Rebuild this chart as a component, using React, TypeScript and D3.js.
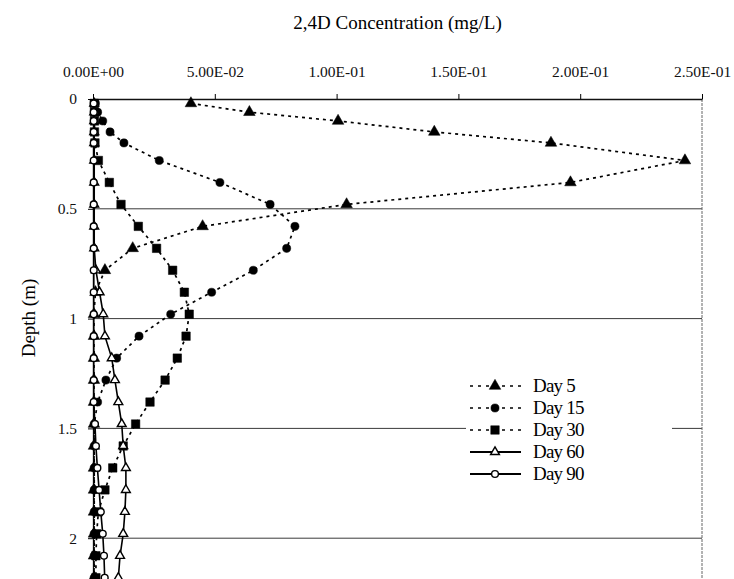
import React, { useEffect, useRef } from 'react';
import * as d3 from 'd3';

// depth of each sampling point (m)
const depths = [0.02, 0.06, 0.1, 0.15, 0.2, 0.28, 0.38, 0.48, 0.58, 0.68, 0.78, 0.88, 0.98,
  1.08, 1.18, 1.28, 1.38, 1.48, 1.58, 1.68, 1.78, 1.88, 1.98, 2.08, 2.18, 2.28];

// 2,4D concentration (mg/L)
const day5 = [0.0402, 0.0642, 0.1006, 0.1401, 0.188, 0.243, 0.196, 0.1041, 0.045, 0.0163, 0.0049, 0.001, 0.0004,
  0.0004, 0.0004, 0.0004, 0.0004, 0.0004, 0.0004, 0.0004, 0.0004, 0.0004, 0.0004, 0.0004, 0.0004, 0.0004];
const day15 = [0.001, 0.0019, 0.004, 0.007, 0.0127, 0.0272, 0.0521, 0.0727, 0.0829, 0.0795, 0.0658, 0.0487, 0.0319,
  0.0189, 0.0097, 0.0053, 0.0019, 0.0005, 0.0005, 0.0005, 0.0005, 0.0005, 0.0005, 0.0005, 0.0005, 0.0005];
const day30 = [0.0005, 0.0006, 0.0006, 0.0006, 0.0008, 0.0022, 0.0067, 0.0115, 0.0186, 0.0261, 0.0327, 0.0375, 0.0395,
  0.0382, 0.0346, 0.0296, 0.0234, 0.0175, 0.0124, 0.0081, 0.0049, 0.0022, 0.0015, 0.0012, 0.0012, 0.0012];
const day60 = [0.0005, 0.0005, 0.0005, 0.0005, 0.0005, 0.0005, 0.0005, 0.0005, 0.0005, 0.0005, 0.0012, 0.0027, 0.0042,
  0.0049, 0.0077, 0.009, 0.0104, 0.0118, 0.0124, 0.0135, 0.0135, 0.0131, 0.0124, 0.0111, 0.0104, 0.01];
const day90 = [0.0003, 0.0003, 0.0003, 0.0003, 0.0003, 0.0003, 0.0003, 0.0003, 0.0003, 0.0003, 0.0003, 0.0003, 0.0003,
  0.0003, 0.0003, 0.0003, 0.0003, 0.0008, 0.0012, 0.0018, 0.0025, 0.0032, 0.004, 0.0045, 0.0048, 0.005];

const xTicks = [0, 0.05, 0.1, 0.15, 0.2, 0.25];
const xTickLabels = ['0.00E+00', '5.00E-02', '1.00E-01', '1.50E-01', '2.00E-01', '2.50E-01'];
const yTicks = [0, 0.5, 1, 1.5, 2];
const yTickLabels = ['0', '0.5', '1', '1.5', '2'];
const gridDepths = [0.5, 1, 1.5, 2];

const series = [
  { name: 'Day 5', values: day5, symbol: d3.symbolTriangle, size: 58, filled: true, dotted: true },
  { name: 'Day 15', values: day15, symbol: d3.symbolCircle, size: 52, filled: true, dotted: true },
  { name: 'Day 30', values: day30, symbol: d3.symbolSquare, size: 72, filled: true, dotted: true },
  { name: 'Day 60', values: day60, symbol: d3.symbolTriangle, size: 34, filled: false, dotted: false },
  { name: 'Day 90', values: day90, symbol: d3.symbolCircle, size: 36, filled: false, dotted: false },
];

const FONT = 'Liberation Serif, Times New Roman, DejaVu Serif, serif';

const App = () => {
  const ref = useRef<SVGSVGElement>(null);

  useEffect(() => {
    const width = 734, height = 579;
    const svg = d3.select(ref.current);
    svg.selectAll('*').remove();
    svg.attr('width', width).attr('height', height).attr('font-family', FONT);

    const x = d3.scaleLinear().domain([0, 0.25]).range([93, 702]);
    const y = d3.scaleLinear().domain([0, 2.5]).range([99, 99 + 2.5 * 219.6]);

    svg.append('rect').attr('width', width).attr('height', height).attr('fill', '#fff');

    // horizontal gridlines
    svg.append('g')
      .selectAll('line')
      .data(gridDepths)
      .join('line')
      .attr('x1', x(0)).attr('x2', x(0.25))
      .attr('y1', d => y(d)).attr('y2', d => y(d))
      .attr('stroke', '#3a3a3a')
      .attr('stroke-width', 1);

    // right border
    svg.append('line')
      .attr('x1', x(0.25)).attr('x2', x(0.25))
      .attr('y1', y(0)).attr('y2', height)
      .attr('stroke', '#666')
      .attr('stroke-dasharray', '3,1');

    const top = svg.append('g')
      .attr('transform', `translate(0,${y(0)})`)
      .call(d3.axisTop(x).tickValues(xTicks).tickSize(5).tickSizeOuter(0)
        .tickFormat((d, i) => xTickLabels[i]));
    top.selectAll('text')
      .attr('y', -22)
      .attr('font-family', FONT)
      .attr('font-size', 15.5)
      .attr('fill', '#111');

    const left = svg.append('g')
      .attr('transform', `translate(${x(0)},0)`)
      .call(d3.axisLeft(y).tickValues(yTicks).tickSize(5).tickSizeOuter(0).tickPadding(11)
        .tickFormat((d, i) => yTickLabels[i]));
    left.selectAll('text')
      .attr('font-family', FONT)
      .attr('font-size', 15.5)
      .attr('fill', '#111');
    svg.selectAll('.domain').attr('stroke', '#111').attr('stroke-width', 1.3);

    // series lines
    const line = d3.line<number>()
      .x(d => x(d))
      .y((d, i) => y(depths[i]));

    series.forEach(s => {
      svg.append('path')
        .attr('d', line(s.values))
        .attr('fill', 'none')
        .attr('stroke', '#000')
        .attr('stroke-width', s.dotted ? 1.7 : 1.6)
        .attr('stroke-dasharray', s.dotted ? '3,4' : null);
    });

    series.forEach(s => {
      svg.append('g')
        .selectAll('path')
        .data(s.values)
        .join('path')
        .attr('d', d3.symbol(s.symbol, s.size))
        .attr('transform', (d, i) => `translate(${x(d)},${y(depths[i])})`)
        .attr('fill', s.filled ? '#000' : '#fff')
        .attr('stroke', '#000')
        .attr('stroke-width', s.filled ? 0.5 : 1.4);
    });

    // legend
    const lg = svg.append('g');
    lg.append('rect')
      .attr('x', 466).attr('y', 372).attr('width', 206).attr('height', 118)
      .attr('fill', '#fff');
    series.forEach((s, i) => {
      const ly = 386 + i * 22;
      lg.append('line')
        .attr('x1', 470).attr('x2', 521).attr('y1', ly).attr('y2', ly)
        .attr('stroke', '#000')
        .attr('stroke-width', s.dotted ? 1.7 : 1.8)
        .attr('stroke-dasharray', s.dotted ? '3,5' : null);
      lg.append('path')
        .attr('d', d3.symbol(s.symbol, s.size)())
        .attr('transform', `translate(495,${ly})`)
        .attr('fill', s.filled ? '#000' : '#fff')
        .attr('stroke', '#000')
        .attr('stroke-width', s.filled ? 0.5 : 1.4);
      lg.append('text')
        .attr('x', 533).attr('y', ly + 6)
        .attr('font-family', FONT)
        .attr('font-size', 19)
        .attr('letter-spacing', -0.8)
        .attr('fill', '#000')
        .text(s.name);
    });

    svg.append('text')
      .attr('x', (x(0) + x(0.25)) / 2)
      .attr('y', 29)
      .attr('text-anchor', 'middle')
      .attr('font-family', FONT)
      .attr('font-size', 19)
      .attr('fill', '#000')
      .text('2,4D Concentration (mg/L)');

    svg.append('text')
      .attr('transform', `translate(35,318) rotate(-90)`)
      .attr('text-anchor', 'middle')
      .attr('font-family', FONT)
      .attr('font-size', 19)
      .attr('fill', '#000')
      .text('Depth (m)');
  }, []);

  return (
    <svg ref={ref} style={{ position: 'absolute', left: 0, top: 0, display: 'block' }} />
  );
};

export default App;
